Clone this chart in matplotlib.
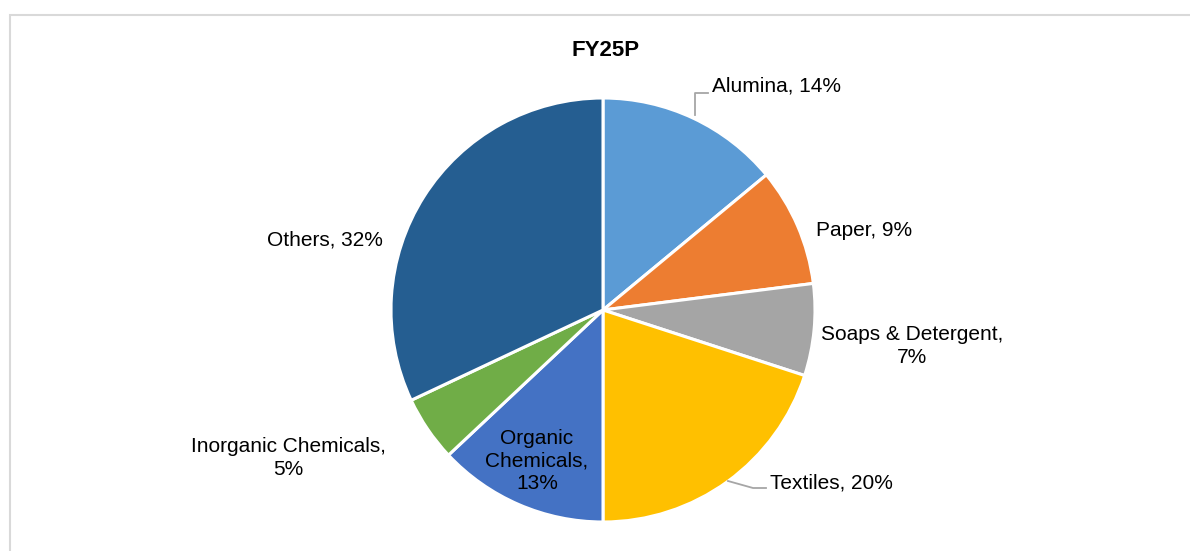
import matplotlib
matplotlib.use("Agg")
import matplotlib.pyplot as plt
from matplotlib.patches import Rectangle

# data
categories = ["Alumina", "Paper", "Soaps & Detergent", "Textiles",
              "Organic Chemicals", "Inorganic Chemicals", "Others"]
shares = [14, 9, 7, 20, 13, 5, 32]
colors = ["#5B9BD5", "#ED7D31", "#A5A5A5", "#FFC000",
          "#4472C4", "#70AD47", "#255E91"]
title = "FY25P"

# label text + placement (pixel coords from top-left) + alignment
label_text = ["Alumina, 14%", "Paper, 9%", "Soaps & Detergent,\n7%",
              "Textiles, 20%", "Organic\nChemicals,\n13%",
              "Inorganic Chemicals,\n5%", "Others, 32%"]
label_pos = [(712, 86), (864, 231), (912, 346), (770, 483),
             (537, 461), (288, 458), (325, 240)]
label_ha = ["left", "center", "center", "left", "center", "center", "center"]

W, H = 1190, 551


def main():
    plt.rcParams["font.family"] = ["Liberation Sans", "DejaVu Sans"]
    fig = plt.figure(figsize=(W / 100, H / 100), dpi=100)
    ax = fig.add_axes([0, 0, 1, 1])

    # chart area border
    ax.add_patch(Rectangle((10, -20), W + 20, H - 15 + 20, fill=False,
                           edgecolor="#d9d9d9", linewidth=1.5))

    ax.pie(shares, colors=colors, startangle=90, counterclock=False,
           radius=212, center=(603, H - 310), frame=True,
           wedgeprops=dict(edgecolor="white", linewidth=2.2))
    ax.set_xlim(0, W)
    ax.set_ylim(0, H)
    ax.set_aspect("equal")
    ax.axis("off")

    for txt, (x, y), ha in zip(label_text, label_pos, label_ha):
        ax.text(x, H - y, txt, ha=ha, va="center", fontsize=15,
                color="#000000", linespacing=1.25)

    # leader lines
    ax.plot([695, 695, 708], [H - 115, H - 93, H - 93], color="#a6a6a6", lw=1.3)
    ax.plot([728, 753, 766], [H - 481, H - 488, H - 488], color="#a6a6a6", lw=1.3)

    ax.text(606, H - 50, title, ha="center", va="center", fontsize=16,
            fontweight="bold")

    fig.savefig("out.png", dpi=100, facecolor="white")


if __name__ == "__main__":
    main()
